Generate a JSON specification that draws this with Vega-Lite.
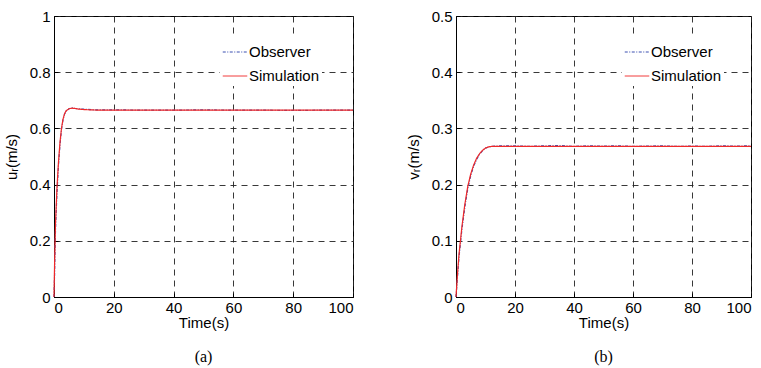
{
  "$schema": "https://vega.github.io/schema/vega-lite/v6.json",
  "background": "white",
  "padding": {"left": 3, "top": 8, "right": 5, "bottom": 0},
  "spacing": 49,
  "datasets": {
    "u": [
      {"t": 0, "value": 0, "series": "Observer"},
      {"t": 0.2, "value": 0.08, "series": "Observer"},
      {"t": 0.4, "value": 0.2, "series": "Observer"},
      {"t": 0.6, "value": 0.27, "series": "Observer"},
      {"t": 1, "value": 0.37, "series": "Observer"},
      {"t": 1.5, "value": 0.47, "series": "Observer"},
      {"t": 2, "value": 0.54, "series": "Observer"},
      {"t": 2.5, "value": 0.595, "series": "Observer"},
      {"t": 3, "value": 0.63, "series": "Observer"},
      {"t": 3.5, "value": 0.65, "series": "Observer"},
      {"t": 4, "value": 0.661, "series": "Observer"},
      {"t": 5, "value": 0.670, "series": "Observer"},
      {"t": 6, "value": 0.673, "series": "Observer"},
      {"t": 7, "value": 0.671, "series": "Observer"},
      {"t": 9, "value": 0.669, "series": "Observer"},
      {"t": 11, "value": 0.668, "series": "Observer"},
      {"t": 13, "value": 0.666, "series": "Observer"},
      {"t": 20, "value": 0.666, "series": "Observer"},
      {"t": 30, "value": 0.665, "series": "Observer"},
      {"t": 40, "value": 0.665, "series": "Observer"},
      {"t": 50, "value": 0.666, "series": "Observer"},
      {"t": 60, "value": 0.665, "series": "Observer"},
      {"t": 70, "value": 0.665, "series": "Observer"},
      {"t": 80, "value": 0.664, "series": "Observer"},
      {"t": 90, "value": 0.665, "series": "Observer"},
      {"t": 100, "value": 0.665, "series": "Observer"},
      {"t": 0, "value": 0, "series": "Simulation"},
      {"t": 0.2, "value": 0.12, "series": "Simulation"},
      {"t": 0.5, "value": 0.26, "series": "Simulation"},
      {"t": 1, "value": 0.39, "series": "Simulation"},
      {"t": 1.5, "value": 0.48, "series": "Simulation"},
      {"t": 2, "value": 0.55, "series": "Simulation"},
      {"t": 2.5, "value": 0.6, "series": "Simulation"},
      {"t": 3, "value": 0.632, "series": "Simulation"},
      {"t": 3.5, "value": 0.651, "series": "Simulation"},
      {"t": 4, "value": 0.662, "series": "Simulation"},
      {"t": 5, "value": 0.670, "series": "Simulation"},
      {"t": 6, "value": 0.672, "series": "Simulation"},
      {"t": 7, "value": 0.671, "series": "Simulation"},
      {"t": 8, "value": 0.669, "series": "Simulation"},
      {"t": 10, "value": 0.667, "series": "Simulation"},
      {"t": 12, "value": 0.666, "series": "Simulation"},
      {"t": 15, "value": 0.665, "series": "Simulation"},
      {"t": 100, "value": 0.665, "series": "Simulation"}
    ],
    "v": [
      {"t": 0, "value": 0, "series": "Observer"},
      {"t": 0.5, "value": 0.035, "series": "Observer"},
      {"t": 1, "value": 0.07, "series": "Observer"},
      {"t": 2, "value": 0.12, "series": "Observer"},
      {"t": 3, "value": 0.16, "series": "Observer"},
      {"t": 4, "value": 0.193, "series": "Observer"},
      {"t": 5, "value": 0.216, "series": "Observer"},
      {"t": 6, "value": 0.233, "series": "Observer"},
      {"t": 7, "value": 0.245, "series": "Observer"},
      {"t": 8, "value": 0.254, "series": "Observer"},
      {"t": 9, "value": 0.26, "series": "Observer"},
      {"t": 10, "value": 0.265, "series": "Observer"},
      {"t": 12, "value": 0.268, "series": "Observer"},
      {"t": 15, "value": 0.269, "series": "Observer"},
      {"t": 20, "value": 0.269, "series": "Observer"},
      {"t": 25, "value": 0.268, "series": "Observer"},
      {"t": 30, "value": 0.269, "series": "Observer"},
      {"t": 35, "value": 0.2695, "series": "Observer"},
      {"t": 40, "value": 0.268, "series": "Observer"},
      {"t": 45, "value": 0.269, "series": "Observer"},
      {"t": 50, "value": 0.2685, "series": "Observer"},
      {"t": 55, "value": 0.269, "series": "Observer"},
      {"t": 60, "value": 0.268, "series": "Observer"},
      {"t": 65, "value": 0.2685, "series": "Observer"},
      {"t": 70, "value": 0.269, "series": "Observer"},
      {"t": 75, "value": 0.268, "series": "Observer"},
      {"t": 80, "value": 0.2685, "series": "Observer"},
      {"t": 85, "value": 0.268, "series": "Observer"},
      {"t": 90, "value": 0.269, "series": "Observer"},
      {"t": 95, "value": 0.2685, "series": "Observer"},
      {"t": 100, "value": 0.269, "series": "Observer"},
      {"t": 0, "value": 0, "series": "Simulation"},
      {"t": 0.5, "value": 0.04, "series": "Simulation"},
      {"t": 1, "value": 0.075, "series": "Simulation"},
      {"t": 1.5, "value": 0.1, "series": "Simulation"},
      {"t": 2, "value": 0.125, "series": "Simulation"},
      {"t": 3, "value": 0.165, "series": "Simulation"},
      {"t": 4, "value": 0.197, "series": "Simulation"},
      {"t": 5, "value": 0.219, "series": "Simulation"},
      {"t": 6, "value": 0.235, "series": "Simulation"},
      {"t": 7, "value": 0.247, "series": "Simulation"},
      {"t": 8, "value": 0.255, "series": "Simulation"},
      {"t": 9, "value": 0.261, "series": "Simulation"},
      {"t": 10, "value": 0.265, "series": "Simulation"},
      {"t": 11, "value": 0.267, "series": "Simulation"},
      {"t": 12, "value": 0.268, "series": "Simulation"},
      {"t": 100, "value": 0.268, "series": "Simulation"}
    ]
  },
  "hconcat": [
    {
      "width": 299,
      "height": 281,
      "title": {"text": "(a)", "orient": "bottom", "offset": 19},
      "data": {"name": "u"},
      "mark": {"type": "line", "strokeWidth": 1.2},
      "encoding": {
        "x": {"field": "t", "type": "quantitative", "scale": {"domain": [0, 100], "nice": false}, "axis": {"values": [0, 20, 40, 60, 80, 100], "title": "Time(s)"}},
        "y": {"field": "value", "type": "quantitative", "scale": {"domain": [0, 1], "nice": false}, "axis": {"values": [0, 0.2, 0.4, 0.6, 0.8, 1], "format": "~g", "title": "uᵣ(m/s)"}},
        "color": {"field": "series", "type": "nominal", "scale": {"domain": ["Observer", "Simulation"], "range": ["#3a4fb0", "#f02828"]}, "legend": {"title": null}},
        "strokeDash": {"field": "series", "type": "nominal", "scale": {"domain": ["Observer", "Simulation"], "range": [[3, 1.5, 1, 1.5], [1, 0]]}, "legend": {"title": null}}
      }
    },
    {
      "width": 295,
      "height": 281,
      "title": {"text": "(b)", "orient": "bottom", "offset": 19},
      "data": {"name": "v"},
      "mark": {"type": "line", "strokeWidth": 1.2},
      "encoding": {
        "x": {"field": "t", "type": "quantitative", "scale": {"domain": [0, 100], "nice": false}, "axis": {"values": [0, 20, 40, 60, 80, 100], "title": "Time(s)"}},
        "y": {"field": "value", "type": "quantitative", "scale": {"domain": [0, 0.5], "nice": false}, "axis": {"values": [0, 0.1, 0.2, 0.3, 0.4, 0.5], "format": "~g", "title": "vᵣ(m/s)"}},
        "color": {"field": "series", "type": "nominal", "scale": {"domain": ["Observer", "Simulation"], "range": ["#3a4fb0", "#f02828"]}, "legend": {"title": null}},
        "strokeDash": {"field": "series", "type": "nominal", "scale": {"domain": ["Observer", "Simulation"], "range": [[3, 1.5, 1, 1.5], [1, 0]]}, "legend": {"title": null}}
      }
    }
  ],
  "resolve": {"scale": {"color": "independent", "strokeDash": "independent", "y": "independent"}, "legend": {"color": "independent", "strokeDash": "independent"}},
  "config": {
    "font": "Liberation Sans",
    "view": {"stroke": "black", "strokeWidth": 1},
    "title": {"font": "Liberation Serif", "fontSize": 16, "fontWeight": "normal", "color": "black", "anchor": "middle"},
    "axis": {
      "labelFont": "Liberation Sans",
      "labelFontSize": 15,
      "labelColor": "black",
      "titleFont": "Liberation Sans",
      "titleFontSize": 15,
      "titleFontWeight": "normal",
      "titleColor": "black",
      "domainColor": "black",
      "tickColor": "black",
      "tickSize": -4,
      "grid": true,
      "gridColor": "#222",
      "gridDash": [6, 5],
      "gridOpacity": 0.9,
      "gridWidth": 1
    },
    "axisX": {"titlePadding": 0, "labelPadding": 7},
    "axisY": {"titlePadding": 10, "labelPadding": 8},
    "legend": {
      "orient": "none",
      "legendX": 166,
      "legendY": 21,
      "fillColor": "white",
      "padding": 2,
      "symbolType": "stroke",
      "symbolSize": 600,
      "symbolStrokeWidth": 1,
      "labelFont": "Liberation Sans",
      "labelFontSize": 15,
      "labelColor": "black",
      "rowPadding": 3,
      "labelOffset": 1
    }
  }
}
